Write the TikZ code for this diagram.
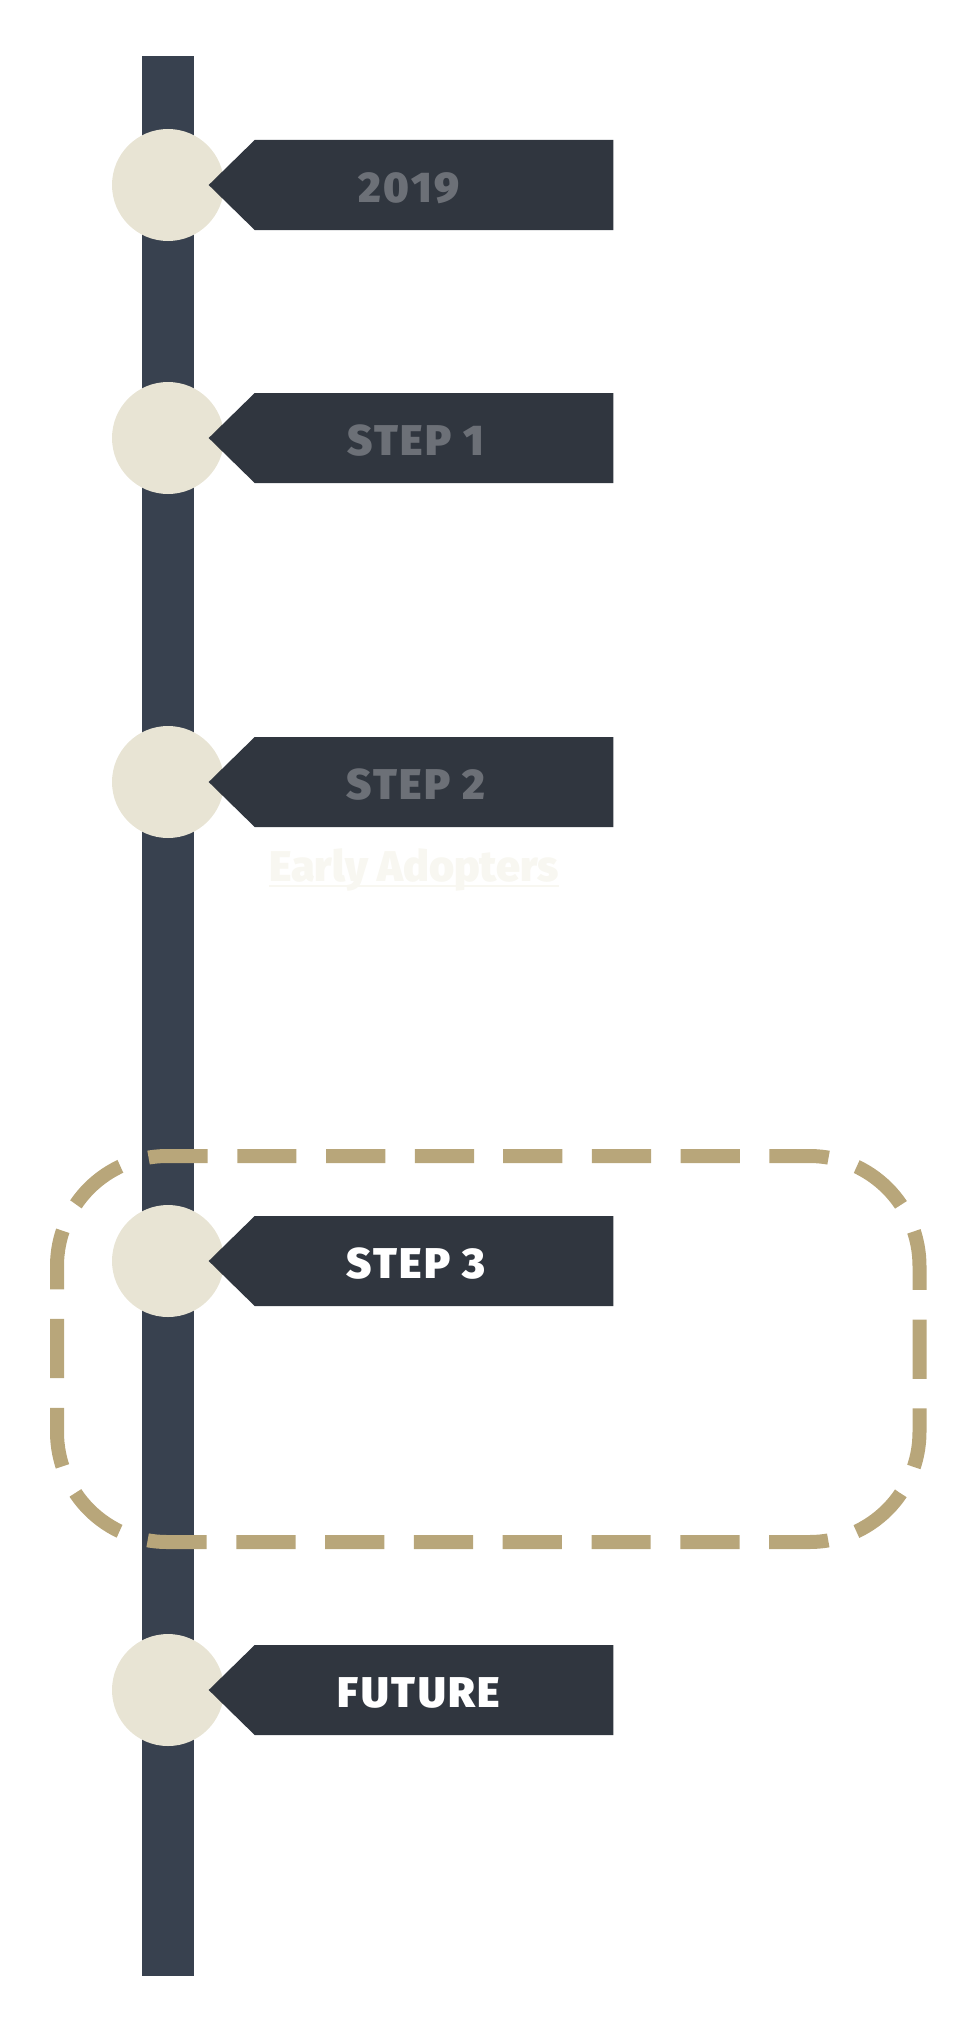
\documentclass[tikz,border=0pt]{standalone}
\usepackage{fontspec}
\setmainfont{Fira Sans}
\newfontfamily\heavyface{Fira Sans Black}
\newfontfamily\heavywide{Fira Sans Black}[LetterSpace=6]
\usepackage{tikz}

\definecolor{barblue}{HTML}{38414F}
\definecolor{flagdark}{HTML}{30363F}
\definecolor{dotcream}{HTML}{E8E4D4}
\definecolor{labelgrey}{HTML}{6C7077}
\definecolor{frametan}{HTML}{B8A67A}
\definecolor{ghostcream}{HTML}{F8F7F1}

\begin{document}
\begin{tikzpicture}[x=1pt,y=-1pt,
  dot/.style={circle,fill=dotcream,minimum size=112pt,inner sep=0pt},
  flag/.style={fill=flagdark},
  stamp/.style={anchor=base,inner sep=0pt,font=\fontsize{43}{50}\selectfont\heavywide},
  frame/.style={draw=frametan,line width=14pt,rounded corners=110pt,dash pattern=on 59.2pt off 29.6pt,dash phase=74pt}]
\useasboundingbox (0,0) rectangle (979,2028);
\fill[barblue] (142,56) rectangle (194,1976);

\draw[frame] (488.25,1156)--(919.5,1156)--(919.5,1542)--(57,1542)--(57,1156)--(488.25,1156);

\node[dot] (d1) at (168,185) {};
\node[dot] (d2) at (168,438) {};
\node[dot] (d3) at (168,782) {};
\node[dot] (d4) at (168,1261) {};
\node[dot] (d5) at (168,1690) {};

\fill[flag] (208.7,185)--(254.7,140)--(613.3,140)--(613.3,230)--(254.7,230)--cycle;
\fill[flag] (208.7,438)--(254.7,393)--(613.3,393)--(613.3,483)--(254.7,483)--cycle;
\fill[flag] (208.7,782)--(254.7,737)--(613.3,737)--(613.3,827)--(254.7,827)--cycle;
\fill[flag] (208.7,1261)--(254.7,1216)--(613.3,1216)--(613.3,1306)--(254.7,1306)--cycle;
\fill[flag] (208.7,1690)--(254.7,1645)--(613.3,1645)--(613.3,1735)--(254.7,1735)--cycle;

\node[stamp,text=labelgrey] (year) at (409,202) {2019};
\node[stamp,text=labelgrey] (step1) at (416,455) {STEP 1};
\node[stamp,text=labelgrey] (step2) at (416,799) {STEP 2};
\node[stamp,text=white] (step3) at (416,1278) {STEP 3};
\node[stamp,text=white] (future) at (419,1707) {FUTURE};

\node[stamp,font=\fontsize{43}{50}\selectfont\heavyface,text=ghostcream] (early) at (414,881) {Early Adopters};
\draw[ghostcream,line width=1.5pt] ([yshift=-5pt]early.base west)--([yshift=-5pt]early.base east);
\end{tikzpicture}
\end{document}
